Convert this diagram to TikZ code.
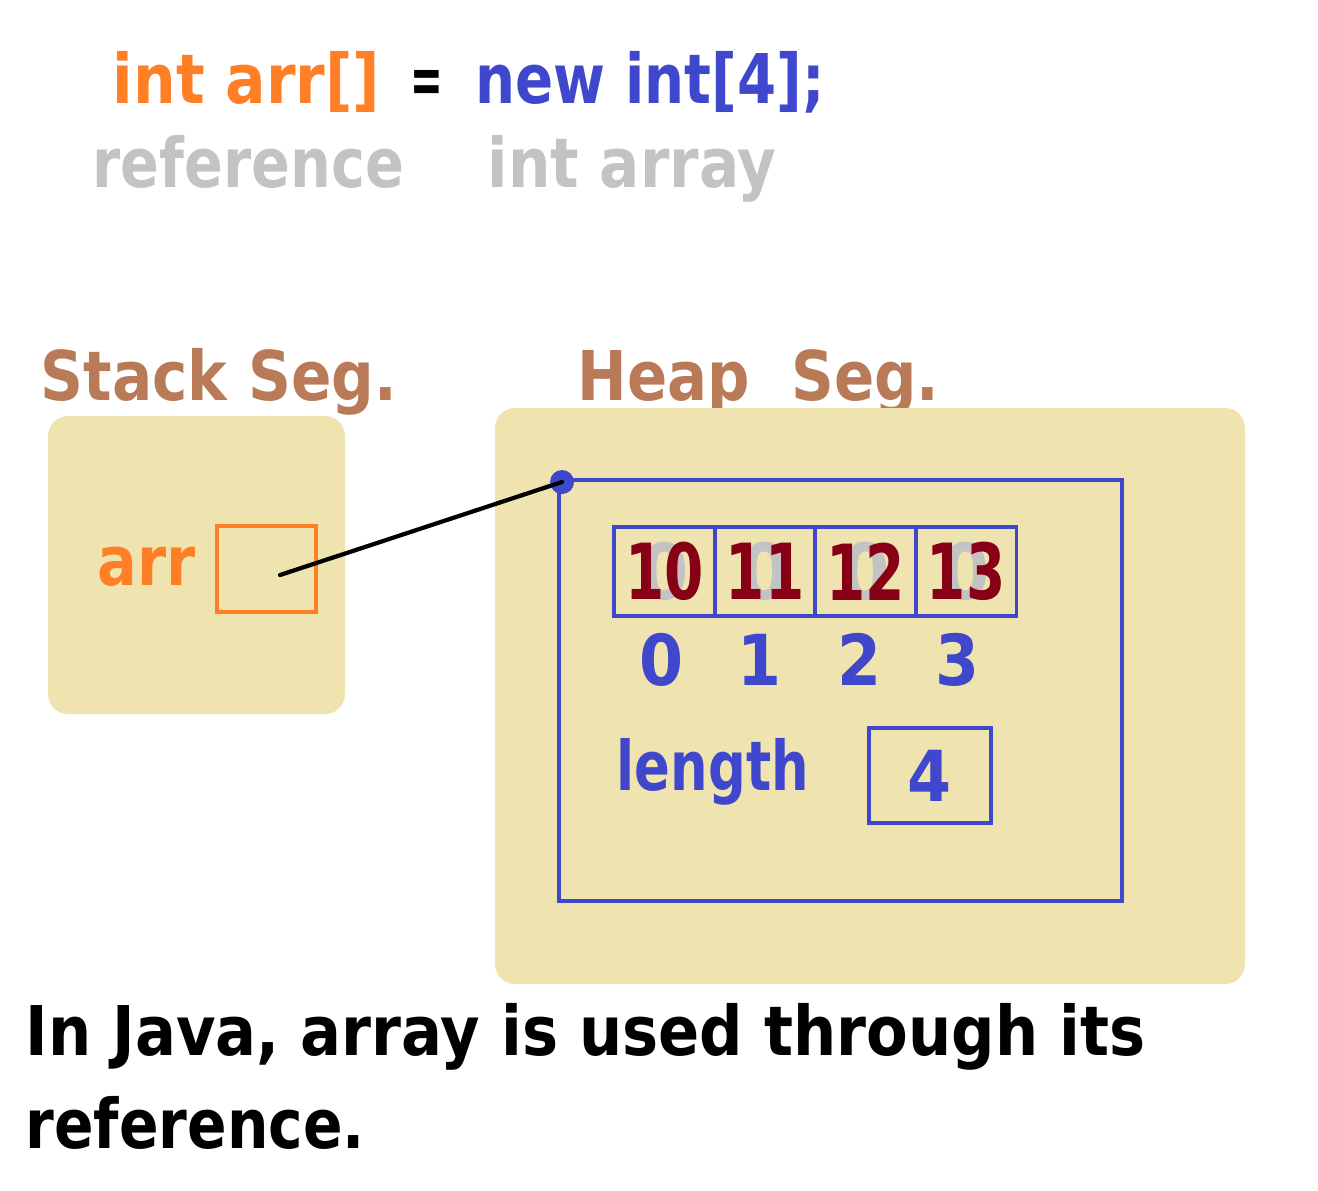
\documentclass[tikz,border=0pt]{standalone}
\usepackage{fontspec}
\setmainfont{DejaVu Sans}[BoldFont={DejaVu Sans Bold}]
\definecolor{jorange}{HTML}{FF7F27}
\definecolor{jblue}{HTML}{3F48CC}
\definecolor{jred}{HTML}{880015}
\definecolor{jgray}{HTML}{C3C3C3}
\definecolor{jtan}{HTML}{EFE4B0}
\definecolor{jbrown}{HTML}{B97A57}
\newcommand\sx[2]{\scalebox{#1}[1]{#2}}
\begin{document}
\begin{tikzpicture}[x=0.01cm,y=-0.01cm,
  txt/.style={anchor=base west,inner sep=0,font=\fontsize{19.5}{24}\selectfont\bfseries},
  idx/.style={anchor=base,inner sep=0,text=jblue,font=\fontsize{20}{24}\selectfont\bfseries},
  seg/.style={fill=jtan,rounded corners=0.2cm},
  cell/.style={draw=jblue,line width=1.1pt,minimum width=1.01cm,minimum height=0.89cm,inner sep=0},
  ghost/.style={inner sep=0,text=jgray,font=\fontsize{22}{26}\selectfont\bfseries},
  val/.style={inner sep=0,text=jred,font=\fontsize{22}{26}\selectfont\bfseries}]
\useasboundingbox[fill=white] (0,0) rectangle (1318,1190);
% header
\node[txt,text=jorange] (decl) at (112,103) {\sx{0.875}{int arr[]}};
\node[txt] (eq) at (410,103) {\sx{0.57}{=}};
\node[txt,text=jblue] (newint) at (475,103) {\sx{0.82}{new int[4];}};
\node[txt,text=jgray] (refl) at (92,187) {\sx{0.835}{reference}};
\node[txt,text=jgray] (arrl) at (487,187) {\sx{0.87}{int array}};
% segment labels
\node[txt,text=jbrown] (stackl) at (40,400) {\sx{0.87}{Stack Seg.}};
\node[txt,text=jbrown] (heapl) at (577,400) {\sx{0.865}{Heap\ \ Seg.}};
% segments
\fill[seg] (48,416) rectangle (345,714);
\fill[seg] (495,408) rectangle (1245,984);
% stack
\node[txt,text=jorange] (arrname) at (97,585) {\sx{0.86}{arr}};
\node[draw=jorange,line width=1.2pt,minimum width=0.99cm,minimum height=0.86cm,inner sep=0] (arrbox) at (266.5,569) {};
\coordinate (ptr) at (280,575);
% heap object
\node[draw=jblue,line width=1.1pt,minimum width=5.63cm,minimum height=4.21cm,inner sep=0] (obj) at (840.5,690.5) {};
\node[cell] (c0) at (664.5,571.5) {};
\node[cell] (c1) at (765,571.5) {};
\node[cell] (c2) at (865.5,571.5) {};
\node[cell] (c3) at (966,571.5) {};
\foreach \i/\v in {0/10,1/11,2/12,3/13}{
  \node[ghost] at (c\i) {\sx{0.9}{0}};
  \node[val] (v\i) at (c\i) {\sx{0.73}{\v}};
}
\node[idx] (i0) at (662,685) {\sx{0.9}{0}};
\node[idx] (i1) at (760,685) {\sx{0.9}{1}};
\node[idx] (i2) at (860,685) {\sx{0.9}{2}};
\node[idx] (i3) at (958,685) {\sx{0.9}{3}};
\node[txt,text=jblue] (lenl) at (616,790) {\sx{0.77}{length}};
\node[draw=jblue,line width=1.1pt,minimum width=1.22cm,minimum height=0.95cm,inner sep=0] (lenbox) at (930,775.5) {};
\node[inner sep=0,text=jblue,font=\fontsize{20}{24}\selectfont\bfseries] (lenv) at (lenbox) {\sx{0.9}{4}};
% pointer
\node[circle,fill=jblue,minimum size=0.24cm,inner sep=0] (dot) at (562,482) {};
\draw[line width=1.2pt,line cap=round] (ptr) -- (dot.center);
% footer
\node[txt] (foot1) at (25,1055) {\sx{0.885}{In Java, array is used through its}};
\node[txt] (foot2) at (25,1148) {\sx{0.85}{reference.}};
\end{tikzpicture}
\end{document}
